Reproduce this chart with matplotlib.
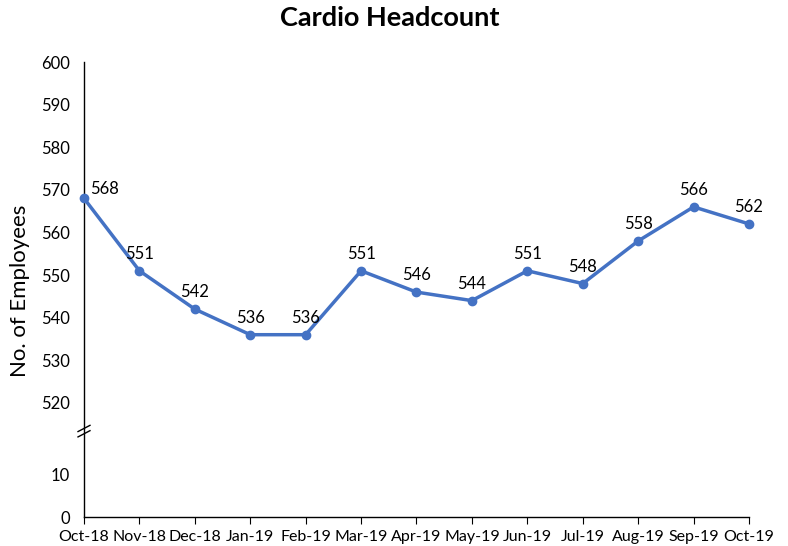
import matplotlib
matplotlib.use("Agg")
import matplotlib.pyplot as plt
import numpy as np

plt.rcParams['font.family'] = ['Lato', 'DejaVu Sans']

# data
months = ["Oct-18", "Nov-18", "Dec-18", "Jan-19", "Feb-19", "Mar-19", "Apr-19",
          "May-19", "Jun-19", "Jul-19", "Aug-19", "Sep-19", "Oct-19"]
headcount = [568, 551, 542, 536, 536, 551, 546, 544, 551, 548, 558, 566, 562]
upper_ticks = [520, 530, 540, 550, 560, 570, 580, 590, 600]
lower_ticks = [0, 10]

color = "#4472C4"
x = np.arange(len(months))

fig = plt.figure(figsize=(7.88, 5.46), dpi=100)
ax_top = fig.add_axes([0.1066, 0.2161, 0.8439, 0.6703])
ax_bot = fig.add_axes([0.1066, 0.0531, 0.8439, 0.1630])

# upper panel: the data
ax_top.plot(x, headcount, color=color, lw=2.5, marker='o', ms=6, zorder=3,
            clip_on=False)
ax_top.set_xlim(0, len(months) - 1)
ax_top.set_ylim(514.1, 600)
ax_top.set_yticks(upper_ticks)
ax_top.set_xticks([])
for s in ['top', 'right', 'bottom']:
    ax_top.spines[s].set_visible(False)
ax_top.spines['left'].set_color('black')
ax_top.spines['left'].set_linewidth(1)
ax_top.tick_params(axis='y', length=0, labelsize=12, pad=10)

for i, v in enumerate(headcount):
    if i == 0:
        ax_top.annotate(str(v), (x[i], v), xytext=(14.5, 6.5), textcoords='offset points',
                        ha='center', va='center', fontsize=12)
    else:
        ax_top.annotate(str(v), (x[i], v), xytext=(0, 12), textcoords='offset points',
                        ha='center', va='center', fontsize=12)

# lower panel: the 0 base
ax_bot.set_xlim(0, len(months) - 1)
ax_bot.set_ylim(0, 20.9)
ax_bot.set_yticks(lower_ticks)
ax_bot.set_xticks(x)
ax_bot.set_xticklabels(months)
for s in ['top', 'right']:
    ax_bot.spines[s].set_visible(False)
ax_bot.spines['left'].set_linewidth(1)
ax_bot.spines['bottom'].set_linewidth(1)
ax_bot.tick_params(axis='y', length=0, labelsize=12, pad=10)
ax_bot.tick_params(axis='x', length=5, direction='out', labelsize=11.5, pad=4)

# break marks on the y axis
for y0 in (0.96, 0.90):
    ax_bot.plot([-0.009, 0.009], [y0, y0 + 0.07], color='black', lw=1,
                transform=ax_bot.transAxes, clip_on=False)

fig.text(0.495, 0.967, "Cardio Headcount", ha='center', va='center',
         fontsize=19.5, fontweight='bold')
fig.text(0.025, 0.467, "No. of Employees", ha='center', va='center',
         rotation=90, fontsize=16)

fig.savefig("out.png", dpi=100)
